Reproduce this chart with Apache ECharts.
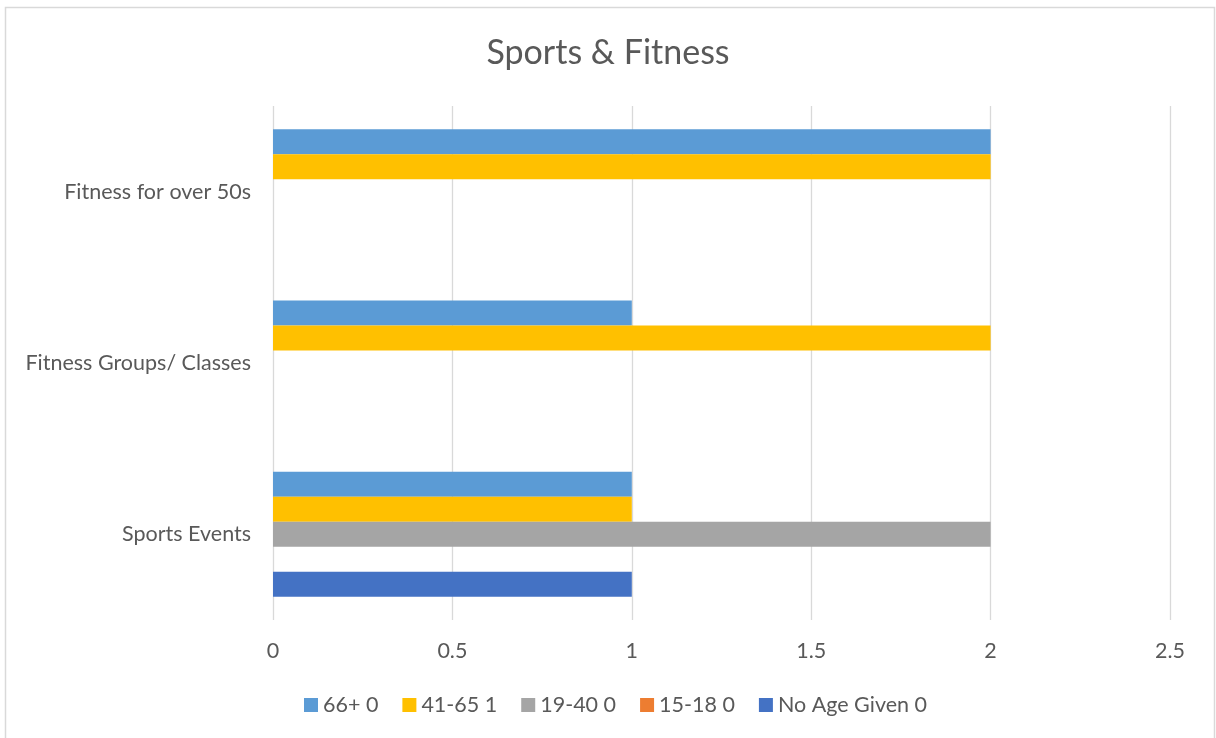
<!DOCTYPE html>
<html>
<head>
<meta charset="utf-8">
<script src="https://cdn.jsdelivr.net/npm/echarts@6/dist/echarts.min.js"></script>
<style>
html,body{margin:0;padding:0;background:#fff;}
#c{width:1216px;height:738px;}
</style>
</head>
<body>
<div id="c"></div>
<script>
const categories = ['Sports Events', 'Fitness Groups/ Classes', 'Fitness for over 50s'];
const legendNames = ['66+ 0', '41-65 1', '19-40 0', '15-18 0', 'No Age Given 0'];
const s66 = [1, 1, 2];
const s4165 = [1, 2, 2];
const s1940 = [2, 0, 0];
const s1518 = [0, 0, 0];
const sNoAge = [1, 0, 0];
const xTicks = [0, 0.5, 1, 1.5, 2, 2.5];

const colors = {
  '66+ 0': '#5B9BD5',
  '41-65 1': '#FFC000',
  '19-40 0': '#A5A5A5',
  '15-18 0': '#ED7D31',
  'No Age Given 0': '#4472C4'
};
const seriesData = {
  '66+ 0': s66,
  '41-65 1': s4165,
  '19-40 0': s1940,
  '15-18 0': s1518,
  'No Age Given 0': sNoAge
};
const font = 'Lato, "Open Sans", sans-serif';
const chart = echarts.init(document.getElementById('c'));
chart.setOption({
  animation: false,
  textStyle: {fontFamily: font},
  title: {
    text: 'Sports & Fitness',
    left: 'center',
    top: 31,
    textStyle: {fontSize: 34, fontWeight: 'normal', color: '#595959', fontFamily: font}
  },
  graphic: [{
    type: 'rect',
    shape: {x: 5.5, y: 7.5, width: 1209, height: 735},
    style: {fill: 'none', stroke: '#d9d9d9', lineWidth: 1.5},
    silent: true
  }],
  legend: {
    data: legendNames,
    top: 689,
    left: 299,
    itemWidth: 14,
    itemHeight: 14,
    itemGap: 24,
    icon: 'rect',
    textStyle: {fontSize: 21.5, color: '#595959', fontFamily: font, padding: [0, 0, 0, 0]}
  },
  grid: {left: 273, right: 46, top: 106, bottom: 118},
  xAxis: {
    type: 'value',
    min: 0, max: 2.5, interval: 0.5,
    axisLine: {show: false},
    axisTick: {show: false},
    axisLabel: {
      fontSize: 21.5, color: '#595959', margin: 20,
      formatter: v => xTicks.includes(v) ? String(v) : ''
    },
    splitLine: {show: true, lineStyle: {color: '#d9d9d9', width: 1.3}}
  },
  yAxis: {
    type: 'category',
    data: categories,
    axisLine: {show: false},
    axisTick: {show: false},
    axisLabel: {fontSize: 21.5, color: '#595959', margin: 22}
  },
  series: legendNames.map(n => ({
    name: n,
    type: 'bar',
    data: seriesData[n],
    itemStyle: {color: colors[n]},
    barGap: '0%',
    barCategoryGap: '27%'
  }))
});
</script>
</body>
</html>
